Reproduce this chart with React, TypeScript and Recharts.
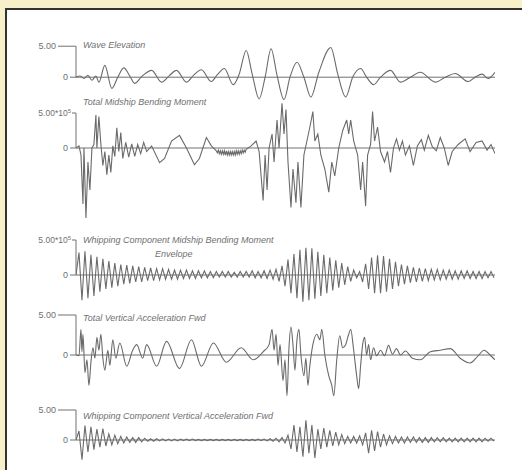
import React from 'react';
import { LineChart, Line, XAxis, YAxis, ReferenceLine } from 'recharts';

// ---------- data ----------
const TIME_MAX = 421;
const WHIP_STEP = 3;

const panelTitles = [
  'Wave Elevation',
  'Total Midship Bending Moment',
  'Whipping Component Midship Bending Moment',
  'Total Vertical Acceleration Fwd',
  'Whipping Component Vertical Acceleration Fwd',
];
const envelopeLabel = 'Envelope';
const yTicks = [0, 5];
const plainTopLabel = '5.00';
const sciTopLabel = '5.00*10';
const sciExponent = '5';
const zeroLabel = '0';

const waveElevation: [number, number][] = [
  [0, 0], [4, 0.2], [8, -0.2], [12, 0.3], [16, -0.5], [20, 0.2], [23, -0.8], [29, 1.9], [36, -1.8], [42, 0],
  [48, 1.5], [54, 0.2], [59, -1.0], [66, 0.1], [76, 1.1], [86, -0.8], [94, 0.3], [101, 1.1], [111, -0.8], [118, 0.3],
  [126, 1.2], [136, -0.7], [142, 0.4], [149, 1.4], [158, -1.2], [164, 0.5], [171, 4.3], [177, 0.5], [184, -3.5], [190, 0],
  [196, 4.6], [202, 0.3], [209, -3.6], [215, 0], [222, 2.4], [229, 0], [236, -3.2], [244, 0.8], [256, 4.8], [263, 0.5],
  [271, -3.2], [278, 0], [286, 1.4], [292, 0], [299, -1.2], [306, 0], [316, 1.1], [326, -0.8], [336, 0], [346, 0.8],
  [361, -0.8], [371, 0], [381, 0.6], [394, -0.7], [401, 0], [408, 0.5], [414, -0.2], [421, 0.8],
];

const totalMoment: [number, number][] = [
  [0, 0], [3, 0.3], [5, -1], [7, -8], [8, 0], [10, -10], [12, -2], [14, -6], [16, 0], [18, 0.5],
  [20, 4.7], [21, 0], [23, 4.5], [25, 0.5], [27, -2.5], [29, -0.5], [31, -3.8], [33, -1], [35, -3.5], [37, 0.3],
  [39, -1.2], [41, 2.9], [43, -0.5], [45, 2.2], [47, -1.5], [50, 0.8], [53, -1.3], [56, 0.6], [59, -1.2], [62, 0.5],
  [65, -0.8], [68, 0.8], [71, -0.5], [76, 0.3], [84, -2.1], [89, -1.5], [96, 1.0], [104, 1.8], [111, 0], [119, -2.4],
  [124, -1.5], [131, 1.5], [136, 0.3], [141, -0.4], [142, -0.7], [143, -0.3], [144, -0.8], [145, -0.4], [146, -0.9], [147, -0.4],
  [148, -0.9], [149, -0.4], [150, -1.0], [151, -0.4], [152, -1.0], [153, -0.5], [154, -1.0], [155, -0.5], [156, -1.0], [157, -0.5],
  [158, -1.0], [159, -0.5], [160, -1.0], [161, -0.4], [162, -0.9], [163, -0.4], [164, -0.9], [165, -0.4], [166, -0.8], [167, -0.3],
  [168, -0.7], [169, -0.3], [170, -0.6], [171, -0.2], [176, 0.3],
  [181, 1.0], [184, -0.5], [188, -7.5], [190, -1], [192, -6], [194, 0], [197, 2], [199, -2], [202, 4], [204, 0],
  [207, 6.4], [209, 2], [211, 5.5], [213, -2], [216, -8.5], [218, -3], [221, -7.8], [223, -2], [226, -8.5], [229, -1],
  [232, 1], [235, 3], [238, 5.2], [240, 1], [243, 2], [246, -1], [250, -3], [254, -6.3], [257, -2], [260, -4],
  [264, 0], [268, 2.5], [272, 4], [274, 2], [276, 4], [279, 1], [283, -1], [286, -6], [288, -2], [291, -8.3],
  [293, -1], [296, 0.5], [298, 5.2], [300, 1], [303, 3], [306, -0.5], [310, -2], [313, -0.5], [316, -3.5], [319, 0],
  [322, 1.3], [325, -0.3], [328, 1.0], [331, -1], [335, 0.3], [339, -2.5], [343, 0.3], [347, 1.2], [350, -0.3], [354, 1.8],
  [358, 0.2], [362, -0.4], [366, 1.5], [370, 0], [374, -2.5], [378, -0.5], [384, 0.5], [391, 1.3], [396, -0.5], [402, 0.8],
  [408, 1.0], [413, -0.3], [417, 0.5], [421, -0.8],
];

const whippingMoment: number[] = [
  0, 3.2, -3.6, 3.4, -3.3, 2.9, -3.0, 2.6, -2.4, 2.3,
  -2.0, 2.0, -1.8, 1.7, -1.6, 1.5, -1.3, 1.4, -1.2, 1.3,
  -1.0, 1.2, -1.0, 1.1, -0.8, 1.0, -0.8, 0.9, -0.7, 0.9,
  -0.6, 0.8, -0.6, 0.7, -0.6, 0.7, -0.5, 0.7, -0.5, 0.6,
  -0.5, 0.6, -0.4, 0.6, -0.4, 0.5, -0.4, 0.5, -0.3, 0.5,
  -0.3, 0.5, -0.3, 0.4, -0.3, 0.5, -0.3, 0.5, -0.3, 0.6,
  -0.4, 0.5, -0.4, 0.6, -0.5, 0.7, -0.6, 0.8, -0.9, 1.3,
  -1.6, 2.2, -2.6, 3.0, -3.3, 3.6, -3.8, 3.9, -3.6, 3.8,
  -3.4, 3.3, -3.0, 2.9, -2.6, 2.5, -2.2, 2.1, -1.8, 1.7,
  -1.4, 1.2, -0.9, 0.7, -0.4, 0.5, -1.0, 1.6, -2.0, 2.5,
  -2.6, 2.8, -2.6, 2.7, -2.4, 2.3, -2.0, 1.9, -1.6, 1.5,
  -1.3, 1.3, -1.1, 1.1, -1.0, 1.0, -0.9, 0.9, -0.8, 0.8,
  -0.7, 0.8, -0.7, 0.7, -0.6, 0.7, -0.6, 0.6, -0.6, 0.6,
  -0.5, 0.6, -0.5, 0.5, -0.5, 0.5, -0.5, 0.5, -0.4, 0.5, -0.4,
];

const totalAccel: [number, number][] = [
  [0, 0], [3, -0.1], [5, 3.2], [6, 0.4], [7, 2.6], [9, -2.2], [11, -0.6], [13, -3.8], [15, -0.9], [17, 0.9],
  [19, -0.4], [21, 2.2], [23, 0.6], [25, 2.6], [27, -0.4], [29, -1.9], [32, 0.6], [34, -1.3], [37, 1.9], [40, -0.4],
  [44, 1.5], [51, -1.4], [57, 0.6], [61, 1.3], [67, -0.4], [71, 1.3], [81, -1.4], [91, 1.7], [104, -1.7], [116, 1.9],
  [126, -1.4], [138, 1.5], [151, -0.9], [166, 0.9], [178, -0.6], [188, 0.4], [194, 1.3], [197, 3.2], [199, 0.6], [201, 2.6],
  [203, -1.3], [205, 1.3], [208, -3.2], [210, -0.6], [212, -5.1], [214, 0.9], [216, 3.5], [218, 1.3], [220, -1.9], [222, 1.9],
  [224, 3.2], [226, 0], [229, -2.6], [231, -0.4], [233, -3.8], [235, -1.3], [238, 1.3], [242, 2.6], [245, 1.9], [247, 3.2],
  [250, 0], [254, -2.6], [257, -3.8], [259, -5.1], [262, -0.6], [265, 2.4], [268, 0.9], [271, 1.3], [274, 2.6], [276, 3.2],
  [279, 0.6], [282, -2.6], [284, -4.2], [286, -1.3], [288, 1.3], [290, 2.2], [292, 0], [294, 1.3], [296, -0.6], [299, 0.9],
  [302, -0.1], [306, 0.6], [310, -0.1], [314, 1.2], [318, 0.1], [322, 0.8], [326, 0], [331, 0.5], [338, -0.4], [346, -0.6],
  [356, 0.4], [366, 0.6], [376, 0.8], [386, -0.4], [396, -1.0], [404, -0.1], [410, 0.6], [416, 0], [421, -0.6],
];

const whippingAccel: number[] = [
  0, 1.5, -3.3, 2.4, -2.0, 2.2, -1.6, 1.8, -1.2, 1.9,
  -1.0, 1.0, -0.8, 0.8, -0.6, 0.6, -0.5, 0.5, -0.4, 0.4,
  -0.4, 0.4, -0.3, 0.3, -0.2, 0.2, -0.2, 0.2, -0.15, 0.2,
  -0.15, 0.15, -0.15, 0.15, -0.15, 0.15, -0.1, 0.15, -0.1, 0.15,
  -0.1, 0.1, -0.1, 0.1, -0.1, 0.1, -0.1, 0.1, -0.1, 0.1,
  -0.1, 0.1, -0.1, 0.1, -0.1, 0.1, -0.1, 0.1, -0.1, 0.1,
  -0.1, 0.15, -0.1, 0.15, -0.15, 0.2, -0.2, 0.3, -0.3, 0.4,
  -0.5, 0.8, -1.5, 2.5, -2.0, 2.2, -2.8, 3.3, -2.2, 2.5,
  -3.0, 1.8, -1.5, 2.0, -1.2, 1.6, -1.0, 1.3, -0.8, 0.9,
  -0.6, 0.6, -0.5, 0.6, -0.5, 0.7, -0.8, 1.2, -2.2, 1.6,
  -1.8, 1.4, -1.2, 1.0, -0.8, 0.7, -0.6, 0.6, -0.5, 0.5,
  -0.5, 0.5, -0.4, 0.5, -0.4, 0.4, -0.4, 0.4, -0.4, 0.4,
  -0.3, 0.4, -0.3, 0.4, -0.3, 0.3, -0.3, 0.3, -0.3, 0.3,
  -0.3, 0.3, -0.3, 0.3, -0.3, 0.3, -0.3, 0.3, -0.2, 0.3, -0.2,
];

// ---------- helpers ----------
const fromPairs = (p: [number, number][]) => p.map(([t, v]) => ({ t, v }));
const fromSamples = (vals: number[]) => vals.map((v, i) => ({ t: i * WHIP_STEP, v }));

const AXIS_X = 76;
const CHART_W = 495;
const INK = '#6a6a6a';
const TEXT = '#707070';
const FONT = '"Liberation Sans", Arial, sans-serif';

const makeTick = (sci: boolean) => (props: any) => {
  const { y, payload } = props;
  if (payload.value === 0) {
    return (
      <g>
        <line x1={AXIS_X - 6} x2={AXIS_X} y1={y} y2={y} stroke={TEXT} />
        <text x={AXIS_X - 8} y={y} dy={3} textAnchor="end" fontSize={9} fill={TEXT} fontFamily={FONT}>{zeroLabel}</text>
      </g>
    );
  }
  if (sci) {
    return (
      <g>
        <line x1={AXIS_X - 4} x2={AXIS_X} y1={y} y2={y} stroke={TEXT} />
        <text x={AXIS_X - 5} y={y} dy={3} textAnchor="end" fontSize={8.5} fill={TEXT} fontFamily={FONT}>
          {sciTopLabel}<tspan dy={-3} fontSize={6}>{sciExponent}</tspan>
        </text>
      </g>
    );
  }
  return (
    <g>
      <line x1={AXIS_X - 18} x2={AXIS_X} y1={y} y2={y} stroke={TEXT} />
      <text x={AXIS_X - 20} y={y} dy={3} textAnchor="end" fontSize={9} fill={TEXT} fontFamily={FONT}>{plainTopLabel}</text>
    </g>
  );
};

type PanelProps = {
  top: number; height: number; lo: number; hi: number;
  data: { t: number; v: number }[]; sci: boolean; curve: 'linear' | 'monotone';
};

const Panel = ({ top, height, lo, hi, data, sci, curve }: PanelProps) => (
  <div style={{ position: 'absolute', left: 0, top }}>
    <LineChart width={CHART_W} height={height} data={data} margin={{ top: 0, right: 0, bottom: 0, left: 0 }}>
      <XAxis dataKey="t" type="number" domain={[0, TIME_MAX]} hide allowDataOverflow />
      <YAxis type="number" domain={[lo, hi]} ticks={yTicks} interval={0} width={AXIS_X}
        axisLine={false} tickLine={false} tick={makeTick(sci)} allowDataOverflow />
      <ReferenceLine y={0} stroke={TEXT} strokeWidth={1} />
      <ReferenceLine segment={[{ x: 0, y: 0 }, { x: 0, y: 5 }]} stroke={TEXT} strokeWidth={1} />
      <Line dataKey="v" type={curve} stroke={INK} strokeWidth={1.1} dot={false} isAnimationActive={false} />
    </LineChart>
  </div>
);

const titleStyle = (left: number, top: number): React.CSSProperties => ({
  position: 'absolute', left, top, fontFamily: FONT, fontStyle: 'italic', fontSize: 9,
  lineHeight: '10px', color: TEXT, whiteSpace: 'nowrap',
});

export default function App() {
  return (
    <div style={{ position: 'absolute', left: 0, top: 0, width: 522, height: 470, background: '#F8F0C8', overflow: 'hidden' }}>
      <div style={{ position: 'absolute', left: 5, top: 8, right: 0, bottom: 0, background: '#ffffff', borderLeft: '2px solid #333', borderTop: '2px solid #333' }} />
      <Panel top={40} height={62} lo={-4} hi={6} data={fromPairs(waveElevation)} sci={false} curve="monotone" />
      <Panel top={99} height={126} lo={-11} hi={7} data={fromPairs(totalMoment)} sci={true} curve="linear" />
      <Panel top={233} height={84} lo={-6} hi={6} data={fromSamples(whippingMoment)} sci={true} curve="linear" />
      <Panel top={307} height={96} lo={-6} hi={6} data={fromPairs(totalAccel)} sci={false} curve="monotone" />
      <Panel top={404} height={60} lo={-4} hi={6} data={fromSamples(whippingAccel)} sci={false} curve="linear" />
      <div style={titleStyle(AXIS_X + 7, 40)}>{panelTitles[0]}</div>
      <div style={titleStyle(AXIS_X + 7, 97)}>{panelTitles[1]}</div>
      <div style={titleStyle(AXIS_X + 7, 235)}>{panelTitles[2]}</div>
      <div style={titleStyle(155, 249)}>{envelopeLabel}</div>
      <div style={titleStyle(AXIS_X + 7, 313)}>{panelTitles[3]}</div>
      <div style={titleStyle(AXIS_X + 7, 411)}>{panelTitles[4]}</div>
    </div>
  );
}
